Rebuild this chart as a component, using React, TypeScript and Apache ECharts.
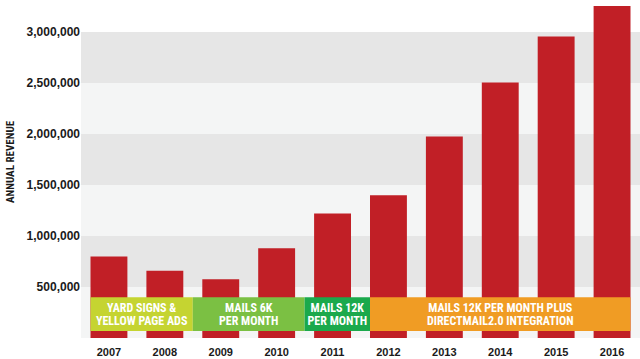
import React, { useEffect, useRef } from "react";
import * as echarts from "echarts";

const years = ["2007", "2008", "2009", "2010", "2011", "2012", "2013", "2014", "2015", "2016"];
const revenue = [800000, 660000, 575000, 880000, 1220000, 1400000, 1975000, 2505000, 2955000, 3255000];
const yTicks = [0, 500000, 1000000, 1500000, 2000000, 2500000, 3000000];

const stripLabels = [
  "YARD SIGNS &\nYELLOW PAGE ADS",
  "MAILS 6K\nPER MONTH",
  "MAILS 12K\nPER MONTH",
  "MAILS 12K PER MONTH PLUS\nDIRECTMAIL2.0 INTEGRATION",
];
// strip spans in category units (index positions)
const stripFrom = [-0.33, 1.5, 3.5, 4.67];
const stripTo = [1.5, 3.5, 4.67, 9.33];
const stripTop = 400000;
const stripBottom = 68000;
const stripColors = ["#c5d431", "#7bc043", "#1ba94c", "#f09c24"];

const FONT = "'Liberation Sans', Arial, Helvetica, sans-serif";
const NARROW = "'Liberation Sans Narrow', 'Arial Narrow', 'Roboto Condensed', 'Liberation Sans', sans-serif";

export default function App() {
  const ref = useRef<HTMLDivElement>(null);
  useEffect(() => {
    const chart = echarts.init(ref.current!, null, { renderer: "svg" });
    chart.setOption({
      animation: false,
      backgroundColor: "#ffffff",
      grid: { left: 81, right: 0, top: 32, bottom: 21, containLabel: false, outerBoundsMode: "none" },
      xAxis: {
        type: "category",
        data: years,
        axisLine: { show: false },
        axisTick: { show: false },
        axisLabel: { color: "#1a1a1a", fontWeight: "bold", fontSize: 11, fontFamily: FONT, margin: 8 },
      },
      yAxis: {
        type: "value",
        min: yTicks[0],
        max: yTicks[yTicks.length - 1],
        interval: yTicks[1] - yTicks[0],
        name: "ANNUAL REVENUE",
        nameLocation: "middle",
        nameRotate: 90,
        nameGap: 63,
        nameTextStyle: { color: "#1a1a1a", fontWeight: "bold", fontSize: 11, fontFamily: NARROW, padding: [0, 0, 0, 46] },
        axisLine: { show: false },
        axisTick: { show: false },
        splitLine: { show: false },
        splitArea: { show: true, areaStyle: { color: ["#f4f5f5", "#e6e6e6"] } },
        axisLabel: {
          color: "#1a1a1a",
          fontWeight: "bold",
          fontSize: 12,
          fontFamily: FONT,
          margin: 1,
          formatter: (v: number) => (v === 0 ? "" : v.toLocaleString("en-US")),
        },
      },
      series: [
        {
          type: "bar",
          data: revenue,
          barWidth: "66%",
          clip: false,
          itemStyle: { color: "#c11f26" },
        },
        {
          type: "custom",
          data: stripLabels.map((_, i) => [i, stripTop]),
          encode: { x: 0, y: 1 },
          z: 5,
          renderItem: (params: any, api: any) => {
            const i = params.dataIndex;
            const band = api.size([1, 0])[0];
            const c0 = api.coord([0, stripTop]);
            const cB = api.coord([0, stripBottom]);
            const x1 = c0[0] + stripFrom[i] * band;
            const x2 = c0[0] + stripTo[i] * band;
            const y1 = c0[1];
            const y2 = cB[1];
            return {
              type: "group",
              children: [
                {
                  type: "rect",
                  shape: { x: x1, y: y1, width: x2 - x1, height: y2 - y1 },
                  style: { fill: stripColors[i] },
                },
                {
                  type: "text",
                  x: (x1 + x2) / 2,
                  y: (y1 + y2) / 2,
                  style: {
                    text: stripLabels[i],
                    fill: "#ffffff",
                    font: `bold 12px ${NARROW}`,
                    lineHeight: 13,
                    align: "center",
                    verticalAlign: "middle",
                  },
                },
              ],
            };
          },
        },
      ],
    });
    return () => chart.dispose();
  }, []);
  return <div ref={ref} style={{ position: "fixed", left: 0, top: 0, width: 640, height: 359 }} />;
}
